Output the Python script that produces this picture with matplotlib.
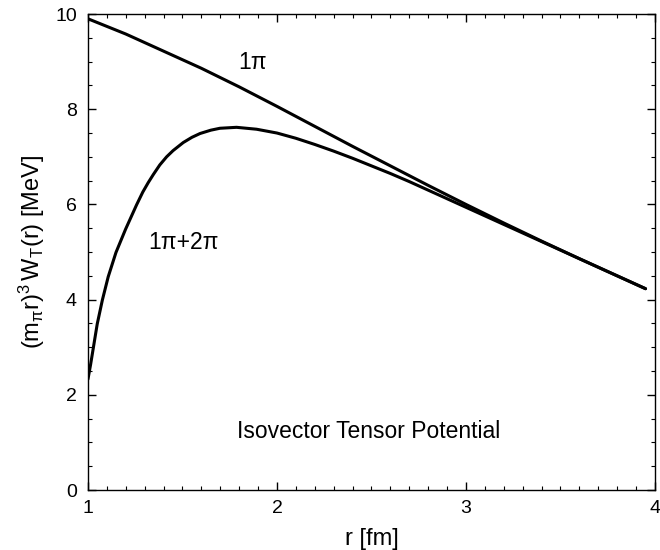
import matplotlib
matplotlib.use("Agg")
import matplotlib.pyplot as plt
from matplotlib.ticker import MultipleLocator

plt.rcParams['font.family'] = ['Liberation Sans', 'DejaVu Sans']
plt.rcParams['mathtext.fontset'] = 'custom'
plt.rcParams['mathtext.rm'] = 'Liberation Sans'
plt.rcParams['mathtext.it'] = 'Liberation Sans'
plt.rcParams['mathtext.default'] = 'regular'

# 1pi exchange only
r_1pi = [1.0, 1.2, 1.4, 1.6, 1.8, 2.0, 2.2, 2.4, 2.6, 2.8, 3.0, 3.2, 3.4, 3.6, 3.8, 3.95]
w_1pi = [9.90, 9.58, 9.22, 8.86, 8.47, 8.06, 7.64, 7.22, 6.81, 6.40, 6.00, 5.61, 5.23, 4.86, 4.50, 4.23]

# 1pi + 2pi exchange
r_12pi = [1.0, 1.014, 1.028, 1.049, 1.076, 1.107, 1.148, 1.199, 1.257, 1.29, 1.319,
          1.346, 1.38, 1.416, 1.45, 1.504, 1.55, 1.593, 1.65, 1.698, 1.786, 1.892,
          2.0, 2.1, 2.2, 2.3, 2.4, 2.5, 2.6, 2.7, 2.8, 2.9, 3.0, 3.1, 3.2, 3.4,
          3.6, 3.8, 3.95]
w_12pi = [2.33, 2.64, 2.98, 3.49, 3.99, 4.48, 4.99, 5.48, 5.99, 6.26, 6.46,
          6.63, 6.83, 7.00, 7.13, 7.30, 7.41, 7.49, 7.56, 7.60, 7.62, 7.58,
          7.50, 7.39, 7.26, 7.12, 6.97, 6.81, 6.65, 6.48, 6.30, 6.12, 5.94, 5.76, 5.58, 5.22,
          4.86, 4.50, 4.23]

fig = plt.figure(figsize=(6.6, 5.5), dpi=100)
ax = fig.add_axes([0.1333, 0.109, 0.8591, 0.8655])

ax.plot(r_1pi, w_1pi, color='black', lw=2.2, solid_capstyle='round')
ax.plot(r_12pi, w_12pi, color='black', lw=2.2, solid_capstyle='round')

ax.text(1.873, 8.99, '1\u03c0', fontsize=16.5, ha='center', va='center')
ax.text(1.503, 5.19, '1\u03c0+2\u03c0', fontsize=16.5, ha='center', va='center')
ax.text(2.487, 1.22, 'Isovector Tensor Potential', fontsize=16.5, ha='center', va='center')

ax.set_xlim(1, 4)
ax.set_ylim(0, 10)
ax.xaxis.set_major_locator(MultipleLocator(1))
ax.xaxis.set_minor_locator(MultipleLocator(0.1))
ax.yaxis.set_major_locator(MultipleLocator(2))
ax.yaxis.set_minor_locator(MultipleLocator(0.5))
ax.tick_params(which='both', direction='in', top=True, right=True, labelsize=14)
ax.tick_params(which='major', length=6, width=1)
ax.tick_params(which='minor', length=3, width=0.8)
ax.tick_params(axis='x', which='major', pad=7)
ax.tick_params(axis='y', which='major', pad=8)
for s in ax.spines.values():
    s.set_linewidth(1)

ax.set_xlabel('r [fm]', fontsize=17, labelpad=8)
ax.set_ylabel(r'$(m_{\pi}r)^{3}\,W_{T}(r)$ [MeV]', fontsize=17, labelpad=6)

fig.savefig('out.png', dpi=100)
